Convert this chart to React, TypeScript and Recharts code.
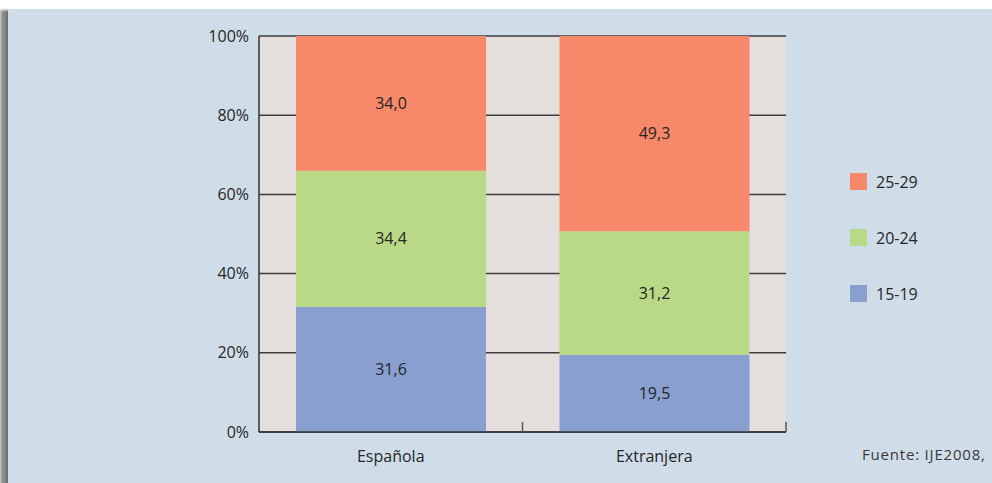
import React from 'react';
import { BarChart, Bar, XAxis, YAxis, CartesianGrid, Legend, LabelList } from 'recharts';

// Distribución por grupo de edad (%) según nacionalidad
const categories = ['Española', 'Extranjera'];
const age15to19 = [31.6, 19.5];
const age20to24 = [34.4, 31.2];
const age25to29 = [34.0, 49.3];
const yTicks = [0, 20, 40, 60, 80, 100];

const seriesInfo = [
  { key: 'a25', name: '25-29', color: '#f78869' },
  { key: 'a20', name: '20-24', color: '#b9d986' },
  { key: 'a15', name: '15-19', color: '#889fd0' },
];

const rows = categories.map((name, i) => ({
  name,
  a15: age15to19[i],
  a20: age20to24[i],
  a25: age25to29[i],
}));

const FONT = '"Open Sans", "Noto Sans", sans-serif';
const TEXT = '#262626';

const fmt = (v: any) => Number(v).toFixed(1).replace('.', ',');

const CategoryTick = (props: any) => {
  const { x, y, payload } = props;
  const half = payload?.offset ?? 0;
  return (
    <g>
      <line x1={x + half} x2={x + half} y1={y} y2={y - 10} stroke="#555" strokeWidth={1.5} />
      <text x={x} y={y + 30} textAnchor="middle" fontSize={16} fontFamily={FONT} fill={TEXT}>
        {payload.value}
      </text>
    </g>
  );
};

const LegendBox = () => (
  <div style={{ fontFamily: FONT, fontSize: 16, color: TEXT }}>
    {seriesInfo.map((s) => (
      <div key={s.key} style={{ display: 'flex', alignItems: 'center', height: 17, marginBottom: 39 }}>
        <span style={{ width: 17, height: 17, background: s.color, display: 'inline-block', marginRight: 9 }} />
        <span>{s.name}</span>
      </div>
    ))}
  </div>
);

export default function App() {
  return (
    <div
      style={{
        position: 'fixed',
        left: 0,
        top: 0,
        width: 992,
        height: 483,
        background: '#ffffff',
        overflow: 'hidden',
      }}
    >
      <div
        style={{
          position: 'absolute',
          left: 0,
          top: 10,
          width: 10,
          height: 480,
          background: 'linear-gradient(to right, #a8a8a8, #8a8a8a 40%, #5e5e5e)',
          filter: 'blur(1px)',
        }}
      />
      <div
        style={{
          position: 'absolute',
          left: 8,
          top: 9,
          width: 984,
          height: 474,
          background: '#cfdde8',
        }}
      />
      <div style={{ position: 'absolute', left: 0, top: 0 }}>
        <BarChart
          width={992}
          height={483}
          data={rows}
          margin={{ top: 36, right: 206, bottom: 21, left: 199 }}
          barSize={190}
        >
          <CartesianGrid
            vertical={false}
            horizontal
            stroke="#3d3d3d"
            strokeWidth={1.5}
            fill="#e4dfdd"
            fillOpacity={1}
          />
          <XAxis
            dataKey="name"
            height={30}
            axisLine={{ stroke: '#333', strokeWidth: 1.5 }}
            tickLine={false}
            tickSize={0}
            tickMargin={0}
            tick={<CategoryTick />}
            interval={0}
          />
          <YAxis
            width={60}
            domain={[0, 100]}
            ticks={yTicks}
            allowDataOverflow
            tickFormatter={(v: number) => `${v}%`}
            axisLine={{ stroke: '#333', strokeWidth: 1.5 }}
            tickLine={false}
            tickSize={0}
            tickMargin={10}
            tick={{ fontSize: 16, fontFamily: FONT, fill: TEXT }}
          />
          <Legend
            layout="horizontal"
            verticalAlign="middle"
            align="center"
            content={<LegendBox />}
            wrapperStyle={{ position: 'absolute', left: 850, top: 173, width: 120 }}
          />
          <Bar dataKey="a15" name="15-19" stackId="s" fill="#889fd0" isAnimationActive={false}>
            <LabelList dataKey="a15" position="center" formatter={fmt} fill={TEXT} fontSize={16} fontFamily={FONT} />
          </Bar>
          <Bar dataKey="a20" name="20-24" stackId="s" fill="#b9d986" isAnimationActive={false}>
            <LabelList dataKey="a20" position="center" formatter={fmt} fill={TEXT} fontSize={16} fontFamily={FONT} />
          </Bar>
          <Bar dataKey="a25" name="25-29" stackId="s" fill="#f78869" isAnimationActive={false}>
            <LabelList dataKey="a25" position="center" formatter={fmt} fill={TEXT} fontSize={16} fontFamily={FONT} />
          </Bar>
        </BarChart>
      </div>
      <div
        style={{
          position: 'absolute',
          left: 862,
          top: 444,
          fontFamily: FONT,
          fontSize: 15,
          letterSpacing: 0.8,
          color: '#3a3a3a',
          whiteSpace: 'nowrap',
        }}
      >
        Fuente: IJE2008,
      </div>
    </div>
  );
}
